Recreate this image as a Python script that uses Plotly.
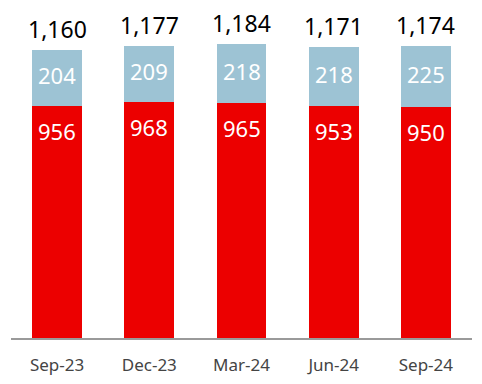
import plotly.graph_objects as go

categories = ["Sep-23", "Dec-23", "Mar-24", "Jun-24", "Sep-24"]
base_values = [956, 968, 965, 953, 950]
top_values = [204, 209, 218, 218, 225]
total_labels = ["1,160", "1,177", "1,184", "1,171", "1,174"]

RED = "#EC0000"
BLUE = "#9DC3D4"
FONT = "Noto Sans"

fig = go.Figure()
fig.add_trace(go.Bar(x=categories, y=base_values, marker=dict(color=RED, line=dict(width=0)),
                     width=0.54, hoverinfo="skip"))
fig.add_trace(go.Bar(x=categories, y=top_values, marker=dict(color=BLUE, line=dict(width=0)),
                     width=0.54, hoverinfo="skip"))

annotations = []
for c, b, t, lab in zip(categories, base_values, top_values, total_labels):
    total = b + t
    annotations.append(dict(x=c, y=total, text=lab, showarrow=False, yanchor="middle",
                            yshift=21, font=dict(family=FONT, size=23, color="#000000")))
    annotations.append(dict(x=c, y=b + t / 2, text=str(t), showarrow=False, yanchor="middle",
                            yshift=3, font=dict(family=FONT, size=22, color="#FFFFFF")))
    annotations.append(dict(x=c, y=b, text=str(b), showarrow=False, yanchor="middle",
                            yshift=-25, font=dict(family=FONT, size=22, color="#FFFFFF")))

fig.update_layout(
    barmode="stack",
    width=482, height=384,
    margin=dict(l=3, r=18, t=0, b=54),
    paper_bgcolor="white", plot_bgcolor="white",
    showlegend=False,
    annotations=annotations,
    xaxis=dict(showline=True, linecolor="#9A9A9A", linewidth=2, ticks="",
               ticklabelstandoff=11,
               tickfont=dict(family=FONT, size=17, color="#444444"),
               showgrid=False, zeroline=False, range=[-0.5, 4.5]),
    yaxis=dict(visible=False, range=[102, 1315], showgrid=False, zeroline=False),
)

fig.write_html("out.html")
